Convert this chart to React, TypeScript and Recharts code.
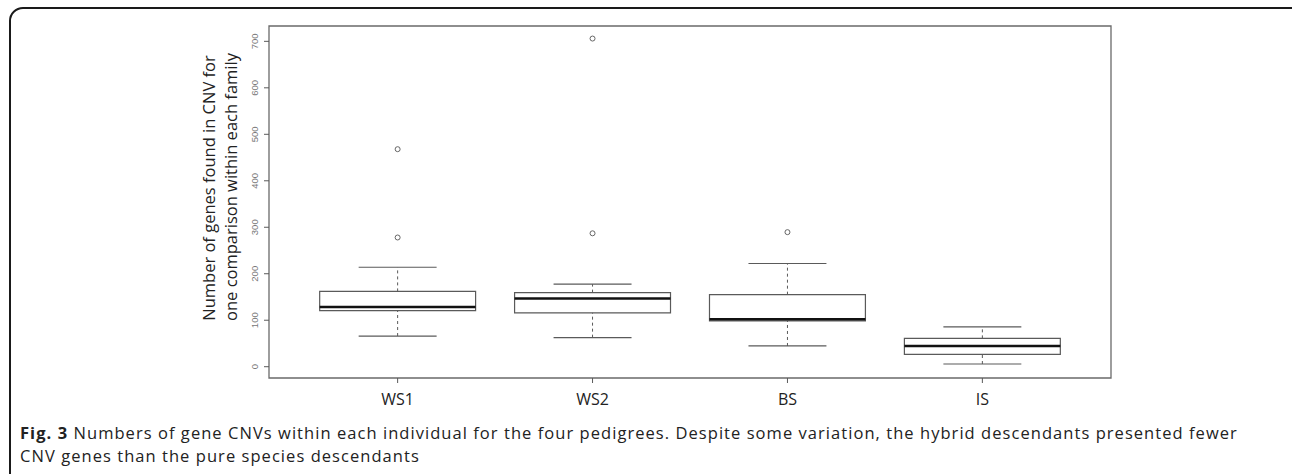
import React from 'react';
import {
  ComposedChart,
  Scatter,
  XAxis,
  YAxis,
  ReferenceArea,
  ReferenceLine,
} from 'recharts';

// one entry per pedigree
const categories = ['WS1', 'WS2', 'BS', 'IS'];
const lowerWhisker = [66, 62.5, 44.6, 5.8];
const q1 = [120.6, 116, 98.4, 26.7];
const median = [128.6, 147, 102, 44.6];
const q3 = [162, 159.4, 155, 61];
const upperWhisker = [214, 177.5, 222, 85.5];

const outlierGroup = [1, 1, 2, 2, 3];
const outlierValues = [468, 278, 706, 287, 289.5];

const yTicks = [0, 100, 200, 300, 400, 500, 600, 700];

const outlierData = outlierGroup.map((g, i) => ({ x: g, y: outlierValues[i] }));

const X_DOMAIN: [number, number] = [0.34, 4.66];
const Y_DOMAIN: [number, number] = [-24.3, 733];
const BOX_HALF = 0.4;
const CAP_HALF = 0.2;
const LINE = '#5a5a5a';

const YTick = (props: any) => {
  const { x, y, payload } = props;
  return (
    <text
      transform={`translate(${x - 4.5},${y}) rotate(-90)`}
      textAnchor="middle"
      fontSize={9.5}
      fill="#777"
      fontFamily="Liberation Sans, Arial, sans-serif"
    >
      {payload.value}
    </text>
  );
};

const XTick = (props: any) => {
  const { x, y, payload } = props;
  return (
    <text x={x} y={y + 20} textAnchor="middle" fontSize={16} fill="#222" fontFamily="Open Sans, sans-serif">
      {categories[payload.value - 1]}
    </text>
  );
};

const OpenCircle = (props: any) => {
  const { cx, cy } = props;
  return <circle cx={cx} cy={cy} r={2.5} fill="none" stroke="#666" strokeWidth={1} />;
};

export default function App() {
  return (
    <div
      style={{
        position: 'absolute',
        left: 0,
        top: 0,
        width: 1292,
        height: 474,
        overflow: 'hidden',
        background: '#fff',
      }}
    >
      <div
        style={{
          position: 'absolute',
          left: 9,
          top: 7,
          width: 1300,
          height: 480,
          border: '2px solid #1a1a1a',
          borderRadius: 14,
          boxSizing: 'border-box',
        }}
      />

      <div style={{ position: 'absolute', left: 0, top: 0 }}>
        <ComposedChart width={1292} height={474} margin={{ top: 26, right: 181, bottom: 66, left: 229 }}>
          <XAxis
            type="number"
            dataKey="x"
            domain={X_DOMAIN}
            allowDataOverflow
            ticks={[1, 2, 3, 4]}
            tick={<XTick />}
            tickSize={5}
            tickLine={{ stroke: LINE }}
            axisLine={false}
            height={30}
          />
          <YAxis
            type="number"
            dataKey="y"
            domain={Y_DOMAIN}
            allowDataOverflow
            ticks={yTicks}
            tick={<YTick />}
            tickSize={5}
            tickLine={{ stroke: LINE }}
            axisLine={false}
            width={40}
          />

          {/* plot frame */}
          <ReferenceArea
            x1={X_DOMAIN[0]}
            x2={X_DOMAIN[1]}
            y1={Y_DOMAIN[0]}
            y2={Y_DOMAIN[1]}
            fill="none"
            fillOpacity={0}
            stroke="#6a6a6a"
            strokeWidth={1.3}
            ifOverflow="visible"
          />

          {categories.map((c, i) => {
            const pos = i + 1;
            return (
              <React.Fragment key={c}>
                <ReferenceLine
                  segment={[{ x: pos, y: lowerWhisker[i] }, { x: pos, y: q1[i] }]}
                  stroke={LINE}
                  strokeDasharray="3 3"
                />
                <ReferenceLine
                  segment={[{ x: pos, y: q3[i] }, { x: pos, y: upperWhisker[i] }]}
                  stroke={LINE}
                  strokeDasharray="3 3"
                />
                <ReferenceLine
                  segment={[{ x: pos - CAP_HALF, y: lowerWhisker[i] }, { x: pos + CAP_HALF, y: lowerWhisker[i] }]}
                  stroke={LINE}
                  strokeWidth={1.2}
                />
                <ReferenceLine
                  segment={[{ x: pos - CAP_HALF, y: upperWhisker[i] }, { x: pos + CAP_HALF, y: upperWhisker[i] }]}
                  stroke={LINE}
                  strokeWidth={1.2}
                />
                <ReferenceArea
                  x1={pos - BOX_HALF}
                  x2={pos + BOX_HALF}
                  y1={q1[i]}
                  y2={q3[i]}
                  fill="#fff"
                  fillOpacity={1}
                  stroke={LINE}
                  strokeWidth={1.2}
                />
                <ReferenceLine
                  segment={[{ x: pos - BOX_HALF, y: median[i] }, { x: pos + BOX_HALF, y: median[i] }]}
                  stroke="#111"
                  strokeWidth={2.5}
                />
              </React.Fragment>
            );
          })}

          <Scatter data={outlierData} shape={<OpenCircle />} isAnimationActive={false} />
        </ComposedChart>
      </div>

      <svg
        width={1292}
        height={474}
        style={{ position: 'absolute', left: 0, top: 0, pointerEvents: 'none' }}
      >
        <g fontFamily="Open Sans, sans-serif" fontSize={16.5} fill="#222" textAnchor="middle">
          <text transform="translate(215,188) rotate(-90)">Number of genes found in CNV for</text>
          <text transform="translate(237,187) rotate(-90)">one comparison within each family</text>
        </g>
      </svg>

      <div
        style={{
          position: 'absolute',
          left: 20,
          top: 421,
          width: 1270,
          fontFamily: 'Open Sans, sans-serif',
          fontSize: 16.5,
          letterSpacing: 1.05,
          lineHeight: '23px',
          color: '#222',
          whiteSpace: 'nowrap',
        }}
      >
        <div>
          <span style={{ fontWeight: 700 }}>Fig. 3 </span>
          <span>
            Numbers of gene CNVs within each individual for the four pedigrees. Despite some variation, the hybrid
            descendants presented fewer
          </span>
        </div>
        <div>CNV genes than the pure species descendants</div>
      </div>
    </div>
  );
}
